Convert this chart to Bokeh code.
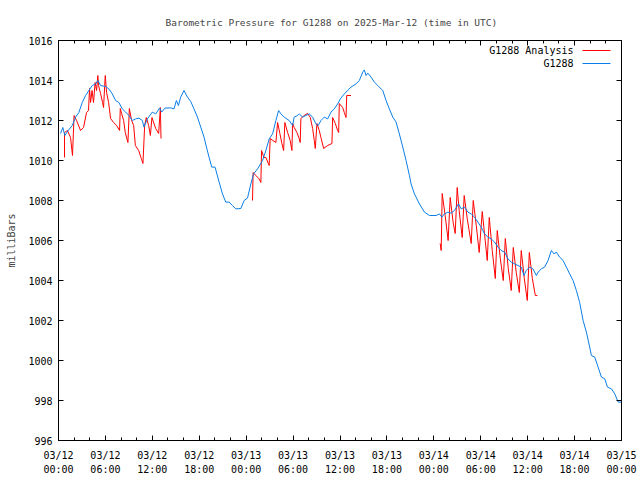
from bokeh.plotting import figure
from bokeh.models import Range1d, FixedTicker, LinearAxis, Label
from bokeh.embed import file_html
from bokeh.resources import INLINE

NaN = float("nan")

TITLE = "Barometric Pressure for G1288 on 2025-Mar-12 (time in UTC)"
Y_LABEL = "milliBars"
SERIES_ANALYSIS = "G1288 Analysis"
SERIES_OBS = "G1288"

# x in hours since 03/12 00:00 UTC
X_TICK_HOURS = [0, 6, 12, 18, 24, 30, 36, 42, 48, 54, 60, 66, 72]
X_TICK_LABELS = ["03/12\n00:00", "03/12\n06:00", "03/12\n12:00", "03/12\n18:00",
                 "03/13\n00:00", "03/13\n06:00", "03/13\n12:00", "03/13\n18:00",
                 "03/14\n00:00", "03/14\n06:00", "03/14\n12:00", "03/14\n18:00",
                 "03/15\n00:00"]
X_MINOR_HOURS = [2, 4, 8, 10, 14, 16, 20, 22, 26, 28, 32, 34, 38, 40, 44, 46,
                 50, 52, 56, 58, 62, 64, 68, 70]
Y_TICKS = [996, 998, 1000, 1002, 1004, 1006, 1008, 1010, 1012, 1014, 1016]

# G1288 observations
obs_hours = [0.26, 0.55, 0.81, 1.24, 1.76, 2.18, 2.60, 3.04, 3.46, 3.88, 4.32, 4.74, 5.03,
             5.38, 6.02, 6.44, 6.88, 7.30, 7.72, 8.16, 8.58, 9.01, 9.44, 9.86, 10.29,
             10.72, 10.93, 11.36, 12.00, 12.43, 12.94, 13.19, 13.62, 14.35, 14.77, 15.08,
             15.33, 15.63, 16.05, 16.49, 16.91, 17.33, 17.77, 18.19, 18.61, 18.92, 19.25,
             19.60, 20.02, 20.54, 20.97, 21.39, 21.82, 22.25, 22.68, 23.32, 23.74, 24.17,
             24.60, 24.94, 25.46, 26.10, 26.52, 26.94, 27.38, 27.80, 28.15, 28.44, 28.86,
             29.50, 29.94, 30.14, 30.58, 30.78, 31.22, 31.64, 32.07, 32.50, 32.92, 33.22,
             33.56, 33.99, 34.42, 34.85, 35.27, 35.70, 36.04, 36.55, 36.98, 37.41, 38.05,
             38.47, 38.91, 39.11, 39.33, 39.55, 39.97, 40.39, 40.83, 41.47, 41.89, 42.31,
             42.75, 43.17, 43.59, 44.03, 44.45, 44.88, 45.09, 45.52, 46.16, 46.80, 47.44,
             48.30, 48.72, 49.03, 49.36, 49.80, 50.22, 50.64, 51.15, 51.50, 51.92, 52.36,
             52.78, 53.20, 53.64, 54.06, 54.48, 54.92, 55.34, 55.77, 56.20, 56.62, 57.05,
             57.48, 57.90, 58.33, 58.76, 59.18, 59.53, 59.82, 60.25, 60.68, 61.11, 61.33,
             61.75, 62.17, 62.61, 63.03, 63.37, 63.67, 64.09, 64.53, 64.95, 65.37, 65.81,
             66.23, 66.65, 67.09, 67.51, 67.93, 68.15, 68.58, 69.01, 69.43, 69.86, 70.20,
             70.72, 71.14, 71.57, 72.00]
obs_mb = [1011.35, 1011.65, 1011.25, 1011.50, 1011.75, 1012.17, 1012.40, 1012.90, 1013.25,
          1013.50, 1013.75, 1013.83, 1014.00, 1013.75, 1013.70, 1013.58, 1013.33, 1013.00,
          1012.90, 1012.58, 1012.42, 1012.25, 1012.00, 1012.08, 1012.12, 1012.00, 1011.67,
          1012.08, 1012.42, 1012.33, 1012.63, 1012.42, 1012.62, 1012.63, 1012.58, 1013.00,
          1012.75, 1013.17, 1013.50, 1013.17, 1012.95, 1012.58, 1012.17, 1011.67, 1011.17,
          1010.67, 1010.17, 1009.67, 1009.67, 1008.92, 1008.33, 1007.92, 1007.92, 1007.75,
          1007.58, 1007.60, 1008.00, 1008.12, 1008.83, 1009.33, 1009.58, 1010.00, 1010.50,
          1011.08, 1011.33, 1012.00, 1012.50, 1012.33, 1012.17, 1012.00, 1011.75, 1012.17,
          1012.25, 1012.33, 1012.17, 1012.25, 1012.33, 1012.17, 1011.83, 1011.75, 1012.00,
          1012.17, 1012.08, 1012.42, 1012.58, 1012.83, 1013.08, 1013.33, 1013.50, 1013.67,
          1013.83, 1014.00, 1014.42, 1014.53, 1014.25, 1014.37, 1014.17, 1013.92, 1013.75,
          1013.50, 1013.00, 1012.58, 1012.17, 1011.92, 1011.33, 1010.67, 1010.00, 1009.25,
          1008.83, 1008.33, 1007.83, 1007.42, 1007.25, 1007.25, 1007.33, 1007.17, 1007.33,
          1007.42, 1007.37, 1007.50, 1007.83, 1007.58, 1007.67, 1007.42, 1007.33, 1007.17,
          1006.92, 1006.67, 1006.33, 1006.17, 1006.08, 1005.92, 1005.67, 1005.50, 1005.42,
          1005.08, 1004.92, 1004.83, 1004.75, 1004.67, 1004.25, 1004.50, 1004.67, 1004.58,
          1004.25, 1004.42, 1004.58, 1004.67, 1005.00, 1005.50, 1005.33, 1005.42, 1005.17,
          1005.00, 1004.67, 1004.33, 1004.00, 1003.50, 1002.90, 1002.00, 1001.42, 1000.67,
          1000.25, 1000.17, 999.67, 999.17, 999.08, 998.67, 998.58, 998.33, 997.92, 997.92]

# G1288 Analysis (three runs, separated by gaps)
ana_hours_1 = [0.77, 0.77, 1.15, 1.54, 1.79, 1.99, 2.31, 2.82, 3.20, 3.59, 3.84, 3.97, 4.10,
               4.29, 4.48, 4.68, 4.87, 5.03, 5.12, 5.38, 5.64, 5.76, 5.98, 6.15, 6.41, 6.66,
               7.05, 7.43, 7.81, 7.90, 8.07, 8.33, 8.54, 8.88, 9.06, 9.35, 9.61, 9.83, 10.25,
               10.59, 10.80, 11.02, 11.23, 11.53, 11.75, 11.95, 12.43, 12.81, 13.03, 13.11]
ana_mb_1 = [1010.15, 1011.40, 1011.50, 1011.15, 1010.25, 1012.25, 1012.00, 1011.50, 1011.65,
            1012.40, 1012.50, 1013.60, 1012.90, 1013.50, 1012.90, 1013.90, 1013.50, 1014.25,
            1013.75, 1013.35, 1012.90, 1012.65, 1014.25, 1013.40, 1012.90, 1012.10, 1011.90,
            1011.75, 1011.50, 1012.60, 1012.35, 1012.00, 1011.40, 1010.90, 1012.60, 1012.00,
            1011.75, 1010.75, 1010.50, 1010.10, 1009.85, 1011.75, 1012.15, 1011.75, 1011.25,
            1012.15, 1011.60, 1011.35, 1012.65, 1011.10]
ana_hours_2 = [24.81, 24.89, 25.24, 25.62, 25.88, 25.97, 26.27, 26.52, 26.94, 27.07, 27.42,
               27.80, 28.02, 28.31, 28.57, 28.79, 28.95, 29.30, 29.63, 29.85, 29.94, 30.14,
               30.49, 30.78, 30.91, 31.00, 31.42, 31.86, 32.20, 32.50, 32.71, 32.84, 33.05,
               33.35, 33.56, 33.91, 34.42, 34.97, 35.06, 35.40, 35.70, 35.83, 35.91, 36.34,
               36.55, 36.77, 36.86, 37.41]
ana_mb_2 = [1008.00, 1009.40, 1009.25, 1009.10, 1008.90, 1010.50, 1010.15, 1010.15, 1009.75,
            1011.10, 1011.00, 1010.90, 1011.90, 1011.35, 1010.85, 1010.50, 1011.90, 1011.40,
            1011.00, 1010.50, 1011.85, 1011.65, 1011.40, 1011.10, 1010.90, 1012.10, 1012.25,
            1012.35, 1012.15, 1011.60, 1011.00, 1010.60, 1011.85, 1011.50, 1011.15, 1010.60,
            1010.75, 1010.85, 1012.15, 1011.85, 1011.50, 1011.40, 1012.85, 1012.65, 1012.40,
            1012.15, 1013.25, 1013.25]
ana_hours_3 = [48.81, 48.94, 49.07, 49.45, 49.83, 50.09, 50.47, 50.73, 50.99, 51.24, 51.63,
               51.88, 52.27, 52.78, 53.04, 53.43, 53.80, 54.19, 54.57, 54.83, 55.09, 55.47,
               55.86, 56.11, 56.50, 56.88, 57.14, 57.52, 57.90, 58.16, 58.54, 58.93, 59.18,
               59.57, 59.95, 60.21, 60.60, 60.98, 61.24]
ana_mb_3 = [1005.85, 1005.50, 1008.35, 1007.25, 1006.00, 1008.15, 1006.90, 1006.35, 1008.65,
            1007.50, 1006.15, 1008.25, 1007.10, 1005.85, 1008.00, 1006.75, 1005.40, 1007.45,
            1006.00, 1005.00, 1007.15, 1005.50, 1004.10, 1006.50, 1005.10, 1004.00, 1006.10,
            1004.60, 1003.50, 1005.65, 1004.40, 1003.40, 1005.50, 1004.10, 1003.00, 1005.40,
            1004.10, 1003.25, 1003.25]

ana_hours = ana_hours_1 + [NaN] + ana_hours_2 + [NaN] + ana_hours_3
ana_mb = ana_mb_1 + [NaN] + ana_mb_2 + [NaN] + ana_mb_3

RED = "#ff0000"
BLUE = "#0a7ee8"
FONT = "DejaVu Sans Mono"
X_MIN, X_MAX = 0, 72
Y_MIN, Y_MAX = 996, 1016
FRAME_W, FRAME_H = 563, 400

p = figure(frame_width=FRAME_W, frame_height=FRAME_H,
           min_border_left=58, min_border_right=19, min_border_top=40, min_border_bottom=40,
           x_range=Range1d(X_MIN, X_MAX), y_range=Range1d(Y_MIN, Y_MAX),
           output_backend="svg", toolbar_location=None, title=TITLE,
           background_fill_color="white", border_fill_color="white")

p.title.text_font = FONT
p.title.text_font_size = "9.5px"
p.title.text_font_style = "normal"
p.title.align = "left"
p.title.offset = 107
p.title.standoff = 26

p.xgrid.visible = False
p.ygrid.visible = False
p.outline_line_color = "black"
p.outline_line_width = 1

xticker = FixedTicker(ticks=X_TICK_HOURS, minor_ticks=X_MINOR_HOURS)
yticker = FixedTicker(ticks=Y_TICKS)
overrides = {h: lab for h, lab in zip(X_TICK_HOURS, X_TICK_LABELS)}


def style_axis(ax, show_labels):
    ax.axis_line_color = "black"
    ax.major_tick_line_color = "black"
    ax.minor_tick_line_color = "black"
    ax.major_tick_in = 5
    ax.major_tick_out = 0
    ax.minor_tick_in = 3
    ax.minor_tick_out = 0
    ax.major_label_text_font = FONT
    ax.major_label_text_color = "black"
    if show_labels:
        ax.major_label_text_font_size = "10px"
    else:
        ax.major_label_text_font_size = "0px"
        ax.major_label_standoff = 0


xa = p.xaxis[0]
xa.ticker = xticker
xa.major_label_overrides = overrides
style_axis(xa, True)
xa.major_label_standoff = 9
xa.major_label_text_line_height = 1.3

ya = p.yaxis[0]
ya.ticker = yticker
style_axis(ya, True)
ya.major_label_standoff = 6
ya.minor_tick_line_color = None
ya.axis_label = Y_LABEL
ya.axis_label_text_font = FONT
ya.axis_label_text_font_size = "10px"
ya.axis_label_text_font_style = "normal"
ya.axis_label_standoff = 8

top_ax = LinearAxis(ticker=xticker)
style_axis(top_ax, False)
top_ax.major_label_overrides = {h: "" for h in X_TICK_HOURS}
p.add_layout(top_ax, "above")

right_ax = LinearAxis(ticker=yticker)
style_axis(right_ax, False)
right_ax.minor_tick_line_color = None
right_ax.major_label_overrides = {t: "" for t in Y_TICKS}
p.add_layout(right_ax, "right")

p.line(ana_hours, ana_mb, line_color=RED, line_width=1)
p.line(obs_hours, obs_mb, line_color=BLUE, line_width=1)

# key (text on the left, sample on the right), top-right corner
px_x = (X_MAX - X_MIN) / float(FRAME_W)
px_y = (Y_MAX - Y_MIN) / float(FRAME_H)
key_text_x = X_MAX - 48 * px_x
key_line_x0 = X_MAX - 39 * px_x
key_line_x1 = X_MAX - 11 * px_x
for i, (name, col) in enumerate([(SERIES_ANALYSIS, RED), (SERIES_OBS, BLUE)]):
    yy = Y_MAX - (10 + 13 * i) * px_y
    p.add_layout(Label(x=key_text_x, y=yy, text=name, text_align="right",
                       text_baseline="middle", text_font=FONT, text_font_size="10px",
                       text_color="black"))
    p.segment(x0=[key_line_x0], y0=[yy], x1=[key_line_x1], y1=[yy],
              line_color=col, line_width=1)

open("out.html", "w").write(file_html(p, INLINE))
